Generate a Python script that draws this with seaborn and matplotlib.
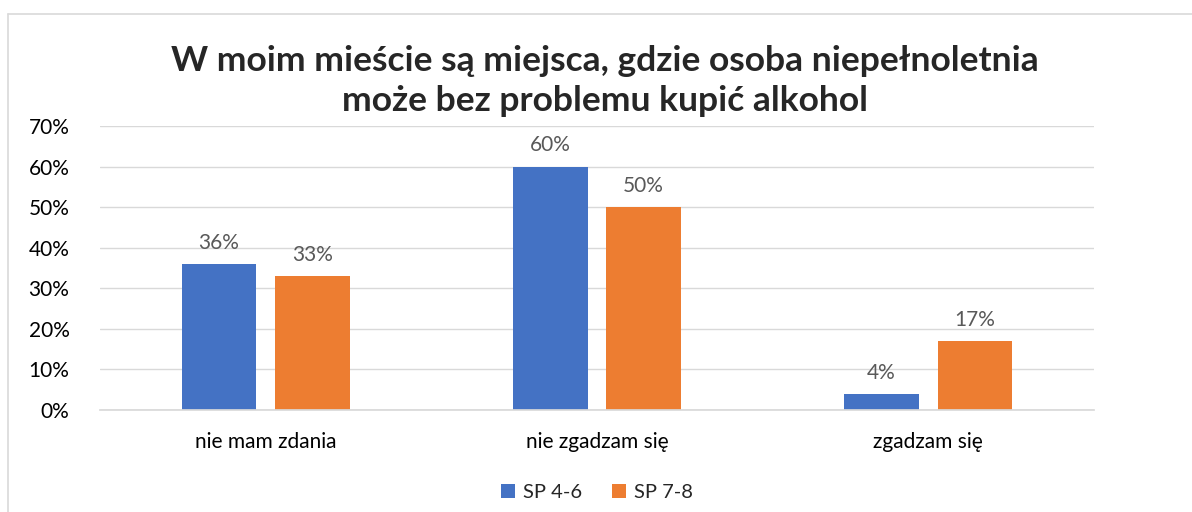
import matplotlib
matplotlib.use("Agg")
import matplotlib.pyplot as plt
import seaborn as sns
import pandas as pd
from matplotlib.lines import Line2D
from matplotlib.ticker import PercentFormatter

categories = ["nie mam zdania", "nie zgadzam się", "zgadzam się"]
series = ["SP 4-6", "SP 7-8"]
sp46 = [36, 60, 4]
sp78 = [33, 50, 17]
colors = ["#4472C4", "#ED7D31"]
title = "W moim mieście są miejsca, gdzie osoba niepełnoletnia\nmoże bez problemu kupić alkohol"

df = pd.DataFrame({
    "cat": categories * 2,
    "grp": [series[0]] * 3 + [series[1]] * 3,
    "val": sp46 + sp78,
})

sns.set_theme(style="white")
plt.rcParams["font.family"] = ["Lato", "DejaVu Sans"]

fig = plt.figure(figsize=(11.92, 5.12), dpi=100)
ax = fig.add_axes([100 / 1192, 1 - 410 / 512, 994 / 1192, 284 / 512])

sns.barplot(data=df, x="cat", y="val", hue="grp", palette=colors,
            width=0.564, gap=0.2, ax=ax, legend=True, saturation=1, linewidth=0)

ax.set_ylim(0, 70)
ax.set_xlim(-0.5, 2.5)
ax.set_yticks(range(0, 71, 10))
ax.yaxis.set_major_formatter(PercentFormatter(decimals=0))
ax.grid(axis="y", color="#D9D9D9", linewidth=1)
ax.set_axisbelow(True)
for s in ["top", "right", "left"]:
    ax.spines[s].set_visible(False)
ax.spines["bottom"].set_color("#D9D9D9")
ax.tick_params(axis="both", length=0, labelsize=15, colors="#000000")
ax.tick_params(axis="y", pad=22)
ax.tick_params(axis="x", pad=16)
ax.set_xlabel("")
ax.set_ylabel("")

for cont in ax.containers:
    ax.bar_label(cont, fmt="%.0f%%", padding=8, fontsize=15, color="#595959")

leg = ax.legend(loc="upper center", bbox_to_anchor=(0.5, -0.195), ncol=2, frameon=False,
                fontsize=14.5, handlelength=0.7, handleheight=0.7, handletextpad=0.4,
                columnspacing=1.5)

fig.text(605 / 1192, 1 - 81 / 512, title, ha="center", va="center",
         fontsize=25.5, fontweight="bold", linespacing=1.3)

fig.add_artist(Line2D([8 / 1192, 8 / 1192], [0, 1 - 14 / 512], transform=fig.transFigure,
                      color="#D9D9D9", linewidth=1.2))
fig.add_artist(Line2D([8 / 1192, 1], [1 - 14 / 512, 1 - 14 / 512], transform=fig.transFigure,
                      color="#D9D9D9", linewidth=1.2))

fig.savefig("out.png", dpi=100)
